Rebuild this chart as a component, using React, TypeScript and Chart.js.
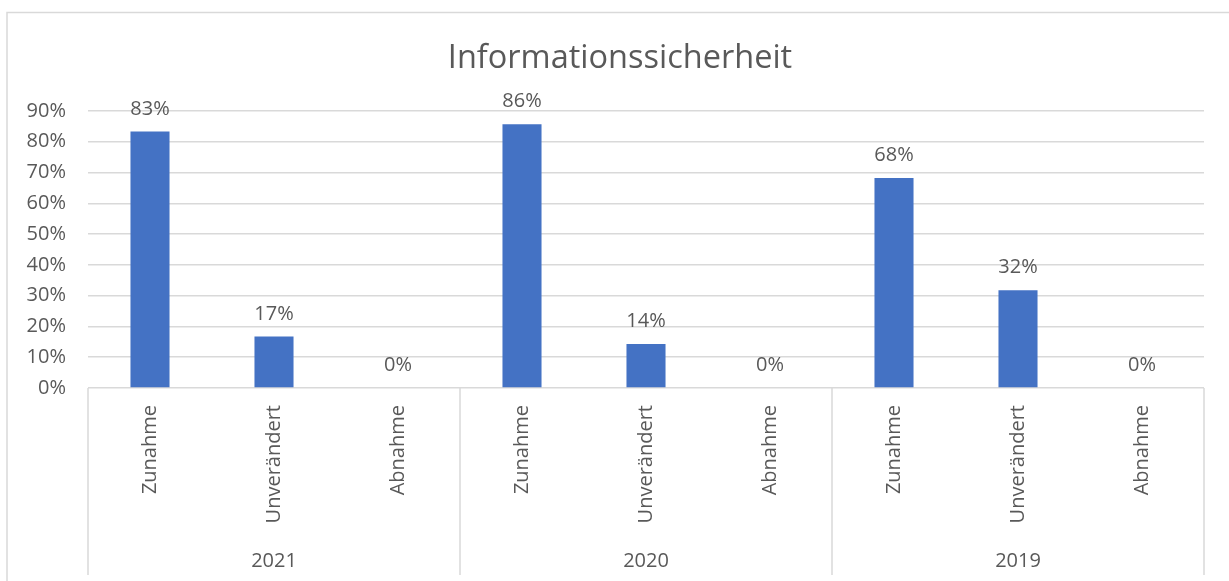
import React, { useEffect, useRef } from "react";
import { Chart, registerables } from "chart.js";

Chart.register(...registerables);

const categories = [
  "Zunahme", "Unverändert", "Abnahme",
  "Zunahme", "Unverändert", "Abnahme",
  "Zunahme", "Unverändert", "Abnahme",
];
const groups = ["2021", "2020", "2019"];
const groupSize = 3;
const values = [0.833, 0.167, 0, 0.857, 0.143, 0, 0.682, 0.318, 0];
const yMin = 0;
const yMax = 0.9;
const yStep = 0.1;
const titleText = "Informationssicherheit";

const FONT = "'Open Sans', 'Noto Sans', sans-serif";
const TEXT = "#595959";
const LINE = "#d9d9d9";
const BAR = "#4472C4";

const fmtPct = (v: number) => Math.round(v * 100) + "%";

const framePlugin = {
  id: "frame",
  beforeDraw(chart: any) {
    const ctx = chart.ctx;
    ctx.save();
    ctx.fillStyle = "#ffffff";
    ctx.fillRect(0, 0, chart.width, chart.height);
    ctx.strokeStyle = LINE;
    ctx.lineWidth = 1.5;
    ctx.strokeRect(7, 12.5, chart.width + 20, chart.height + 20);
    ctx.font = `32.5px ${FONT}`;
    ctx.fillStyle = TEXT;
    ctx.textAlign = "center";
    ctx.textBaseline = "alphabetic";
    ctx.fillText(titleText, 620, 68);
    ctx.restore();
  },
};

const extrasPlugin = {
  id: "extras",
  afterDatasetsDraw(chart: any) {
    const ctx = chart.ctx;
    const meta = chart.getDatasetMeta(0);
    ctx.save();
    ctx.font = `20px ${FONT}`;
    ctx.fillStyle = TEXT;
    ctx.textAlign = "center";
    ctx.textBaseline = "alphabetic";
    meta.data.forEach((bar: any, i: number) => {
      ctx.fillText(fmtPct(values[i]), bar.x, bar.y - 17);
    });
    ctx.restore();
  },
  afterDraw(chart: any) {
    const ctx = chart.ctx;
    const xs = chart.scales.x;
    const area = chart.chartArea;
    const bounds: number[] = [area.left];
    for (let g = 1; g < groups.length; g++) {
      const a = xs.getPixelForValue(g * groupSize - 1);
      const b = xs.getPixelForValue(g * groupSize);
      bounds.push((a + b) / 2);
    }
    bounds.push(area.right);
    ctx.save();
    ctx.strokeStyle = LINE;
    ctx.lineWidth = 1.5;
    bounds.forEach((x) => {
      ctx.beginPath();
      ctx.moveTo(Math.round(x), area.bottom);
      ctx.lineTo(Math.round(x), 575);
      ctx.stroke();
    });
    ctx.font = `20px ${FONT}`;
    ctx.fillStyle = TEXT;
    ctx.textAlign = "center";
    ctx.textBaseline = "alphabetic";
    groups.forEach((g, i) => {
      ctx.fillText(g, (bounds[i] + bounds[i + 1]) / 2, 567);
    });
    ctx.restore();
  },
};

export default function App() {
  const ref = useRef<HTMLCanvasElement | null>(null);
  useEffect(() => {
    document.body.style.margin = "0";
    if (!ref.current) return;
    const chart = new Chart(ref.current, {
      type: "bar",
      data: {
        labels: categories,
        datasets: [
          {
            data: values,
            backgroundColor: BAR,
            categoryPercentage: 1,
            barPercentage: 0.315,
          },
        ],
      },
      options: {
        animation: false,
        responsive: true,
        maintainAspectRatio: false,
        layout: { padding: { left: 0, right: 25, top: 111, bottom: 0 } },
        plugins: {
          legend: { display: false },
          tooltip: { enabled: false },
          title: { display: false },
        },
        scales: {
          x: {
            grid: { display: false },
            border: { display: false },
            ticks: {
              autoSkip: false,
              minRotation: 90,
              maxRotation: 90,
              padding: 9,
              color: TEXT,
              font: { family: FONT, size: 20 },
            },
            afterFit(scale: any) {
              scale.height = 193;
            },
          },
          y: {
            min: yMin,
            max: yMax,
            grid: { color: LINE, lineWidth: 1.5, drawTicks: false },
            border: { display: false },
            ticks: {
              stepSize: yStep,
              padding: 22,
              color: TEXT,
              font: { family: FONT, size: 20 },
              callback: (v: any) => fmtPct(Number(v)),
            },
            afterFit(scale: any) {
              scale.width = 88;
            },
          },
        },
      },
      plugins: [framePlugin, extrasPlugin],
    });
    return () => chart.destroy();
  }, []);
  return (
    <div style={{ width: 1229, height: 581, position: "relative" }}>
      <canvas ref={ref} />
    </div>
  );
}
